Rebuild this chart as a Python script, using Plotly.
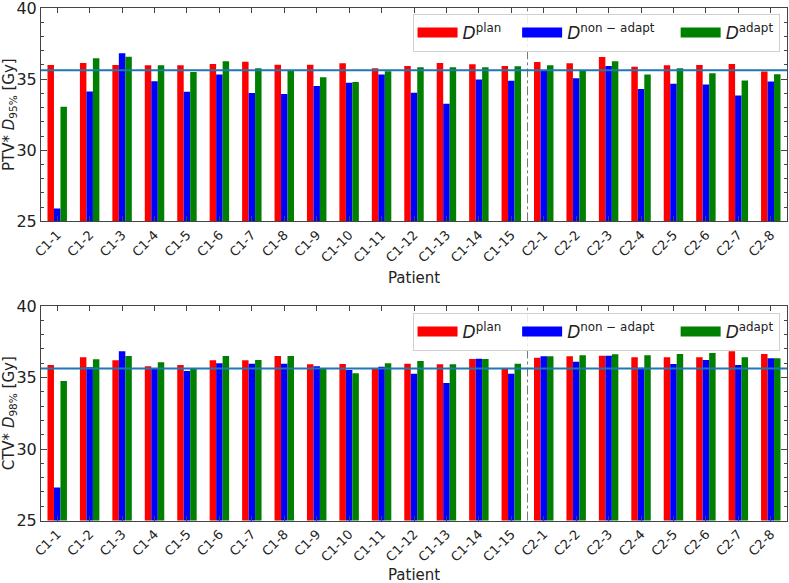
import plotly.graph_objects as go

patients = [f"C1-{i}" for i in range(1, 16)] + [f"C2-{i}" for i in range(1, 9)]
n_c1 = 15
threshold = 35.625

ptv_plan = [36.0, 36.14, 36.0, 35.98, 35.98, 36.07, 36.23, 36.02, 36.02, 36.12, 35.77,
            35.93, 36.14, 36.05, 35.93,
            36.21, 36.12, 36.56, 35.88, 35.98, 36.0, 36.07, 35.53]
ptv_nonadapt = [25.9, 34.13, 36.82, 34.86, 34.11, 35.32, 34.02, 33.95, 34.51, 34.74, 35.32,
                34.04, 33.27, 34.97, 34.88,
                35.6, 35.07, 35.93, 34.3, 34.67, 34.62, 33.85, 34.83]
ptv_adapt = [33.06, 36.47, 36.58, 35.98, 35.51, 36.26, 35.77, 35.58, 35.14, 34.79, 35.56,
             35.84, 35.84, 35.84, 35.91,
             35.98, 35.6, 36.26, 35.32, 35.77, 35.42, 34.9, 35.35]

ctv_plan = [35.87, 36.41, 36.2, 35.78, 35.87, 36.2, 36.2, 36.5, 35.92, 35.94, 35.66,
            35.97, 35.92, 36.29, 35.59,
            36.38, 36.48, 36.52, 36.41, 36.41, 36.41, 36.83, 36.64]
ctv_nonadapt = [27.3, 35.71, 36.83, 35.62, 35.45, 35.99, 35.97, 35.97, 35.78, 35.52, 35.76,
                35.27, 34.62, 36.31, 35.27,
                36.48, 36.1, 36.52, 35.69, 35.94, 36.22, 35.87, 36.34]
ctv_adapt = [34.76, 36.27, 36.5, 36.06, 35.59, 36.5, 36.22, 36.5, 35.64, 35.29, 35.99,
             36.15, 35.92, 36.29, 35.97,
             36.48, 36.55, 36.62, 36.55, 36.64, 36.71, 36.41, 36.34]

series_names = ["<i>D</i><sup>plan</sup>", "<i>D</i><sup>non − adapt</sup>", "<i>D</i><sup>adapt</sup>"]
legend_pad = ["\u00a0\u00a0", "\u00a0\u00a0\u00a0", ""]
colors = ["#ff0000", "#0000ff", "#008000"]

FONT = "DejaVu Sans"
xs = list(range(len(patients)))

fig = go.Figure()
panels = [
    ([ptv_plan, ptv_nonadapt, ptv_adapt], "x", "y", "legend"),
    ([ctv_plan, ctv_nonadapt, ctv_adapt], "x2", "y2", "legend2"),
]
for vals, xa, ya, lg in panels:
    for name, col, v in zip(series_names, colors, vals):
        fig.add_trace(go.Bar(x=xs, y=v, name=name, marker=dict(color=col, line=dict(width=0)),
                             xaxis=xa, yaxis=ya, showlegend=False, legendgroup=name))
    # legend keys drawn as wide patches (like the reference's rectangles)
    for name, pad, col in zip(series_names, legend_pad, colors):
        fig.add_trace(go.Scatter(x=[None], y=[None], mode="lines", name=name + pad,
                                 line=dict(color=col, width=10), xaxis=xa, yaxis=ya,
                                 legend=lg, legendgroup=name, hoverinfo="skip"))

top_dom = [0.6204, 0.9862]
bot_dom = [0.1072, 0.4751]

axcol = "#444444"
xcommon = dict(range=[-0.5, len(patients) - 0.5], tickmode="array", tickvals=xs, ticktext=patients,
               tickangle=-45, ticks="inside", ticklen=5, tickcolor=axcol, showline=True,
               linecolor=axcol, linewidth=1, mirror="ticks", showgrid=False, zeroline=False,
               tickfont=dict(family=FONT, size=13, color="#222"), automargin=False)
ycommon = dict(range=[25, 40], tickvals=[25, 30, 35, 40], ticks="inside", ticklen=6, tickcolor=axcol,
               showline=True, linecolor=axcol, linewidth=1, mirror="ticks", showgrid=False,
               zeroline=False, tickfont=dict(family=FONT, size=16, color="#222"),
               ticklabeloverflow="allow",
               minor=dict(dtick=1, ticks="inside", ticklen=3, tickcolor=axcol, showgrid=False),
               automargin=False)

legcommon = dict(orientation="h", x=0.99, xanchor="right", yanchor="top",
                 bgcolor="rgba(255,255,255,0.85)", bordercolor="#d0d0d0", borderwidth=1,
                 font=dict(family=FONT, size=17, color="#222"), itemwidth=40,
                 tracegroupgap=0)

fig.update_layout(
    width=789, height=583,
    margin=dict(l=41, r=2, t=0, b=0),
    paper_bgcolor="white", plot_bgcolor="white",
    barmode="group", bargap=0.4, bargroupgap=0,
    font=dict(family=FONT, color="#222"),
    xaxis=dict(**xcommon, anchor="y"),
    xaxis2=dict(**xcommon, anchor="y2"),
    yaxis=dict(**ycommon, domain=top_dom, anchor="x",
               title=dict(text="PTV* <i>D</i><sub>95%</sub> [Gy]", font=dict(family=FONT, size=15), standoff=4)),
    yaxis2=dict(**ycommon, domain=bot_dom, anchor="x2",
                title=dict(text="CTV* <i>D</i><sub>98%</sub> [Gy]", font=dict(family=FONT, size=15), standoff=4)),
    legend=dict(**legcommon, y=0.976),
    legend2=dict(**legcommon, y=0.463),
    showlegend=True,
    annotations=[
        dict(text="Patient", xref="x domain", yref="paper", x=0.5, y=1 - 278 / 583,
             xanchor="center", yanchor="middle", showarrow=False,
             font=dict(family=FONT, size=15, color="#222")),
        dict(text="Patient", xref="x2 domain", yref="paper", x=0.5, y=1 - 575 / 583,
             xanchor="center", yanchor="middle", showarrow=False,
             font=dict(family=FONT, size=15, color="#222")),
    ],
)

sep = n_c1 - 0.5
for xa, ya in [("x", "y"), ("x2", "y2")]:
    fig.add_shape(type="line", xref=xa, yref=f"{ya} domain", x0=sep, x1=sep, y0=0, y1=1,
                  line=dict(color="#777777", width=1, dash="dashdot"), layer="above")
    fig.add_shape(type="line", xref=f"{xa} domain", yref=ya, x0=0, x1=1, y0=threshold, y1=threshold,
                  line=dict(color="#1f77b4", width=2), layer="above")

fig.write_html("out.html", config={"displayModeBar": False},
               post_script="document.body.style.margin='0px';")
